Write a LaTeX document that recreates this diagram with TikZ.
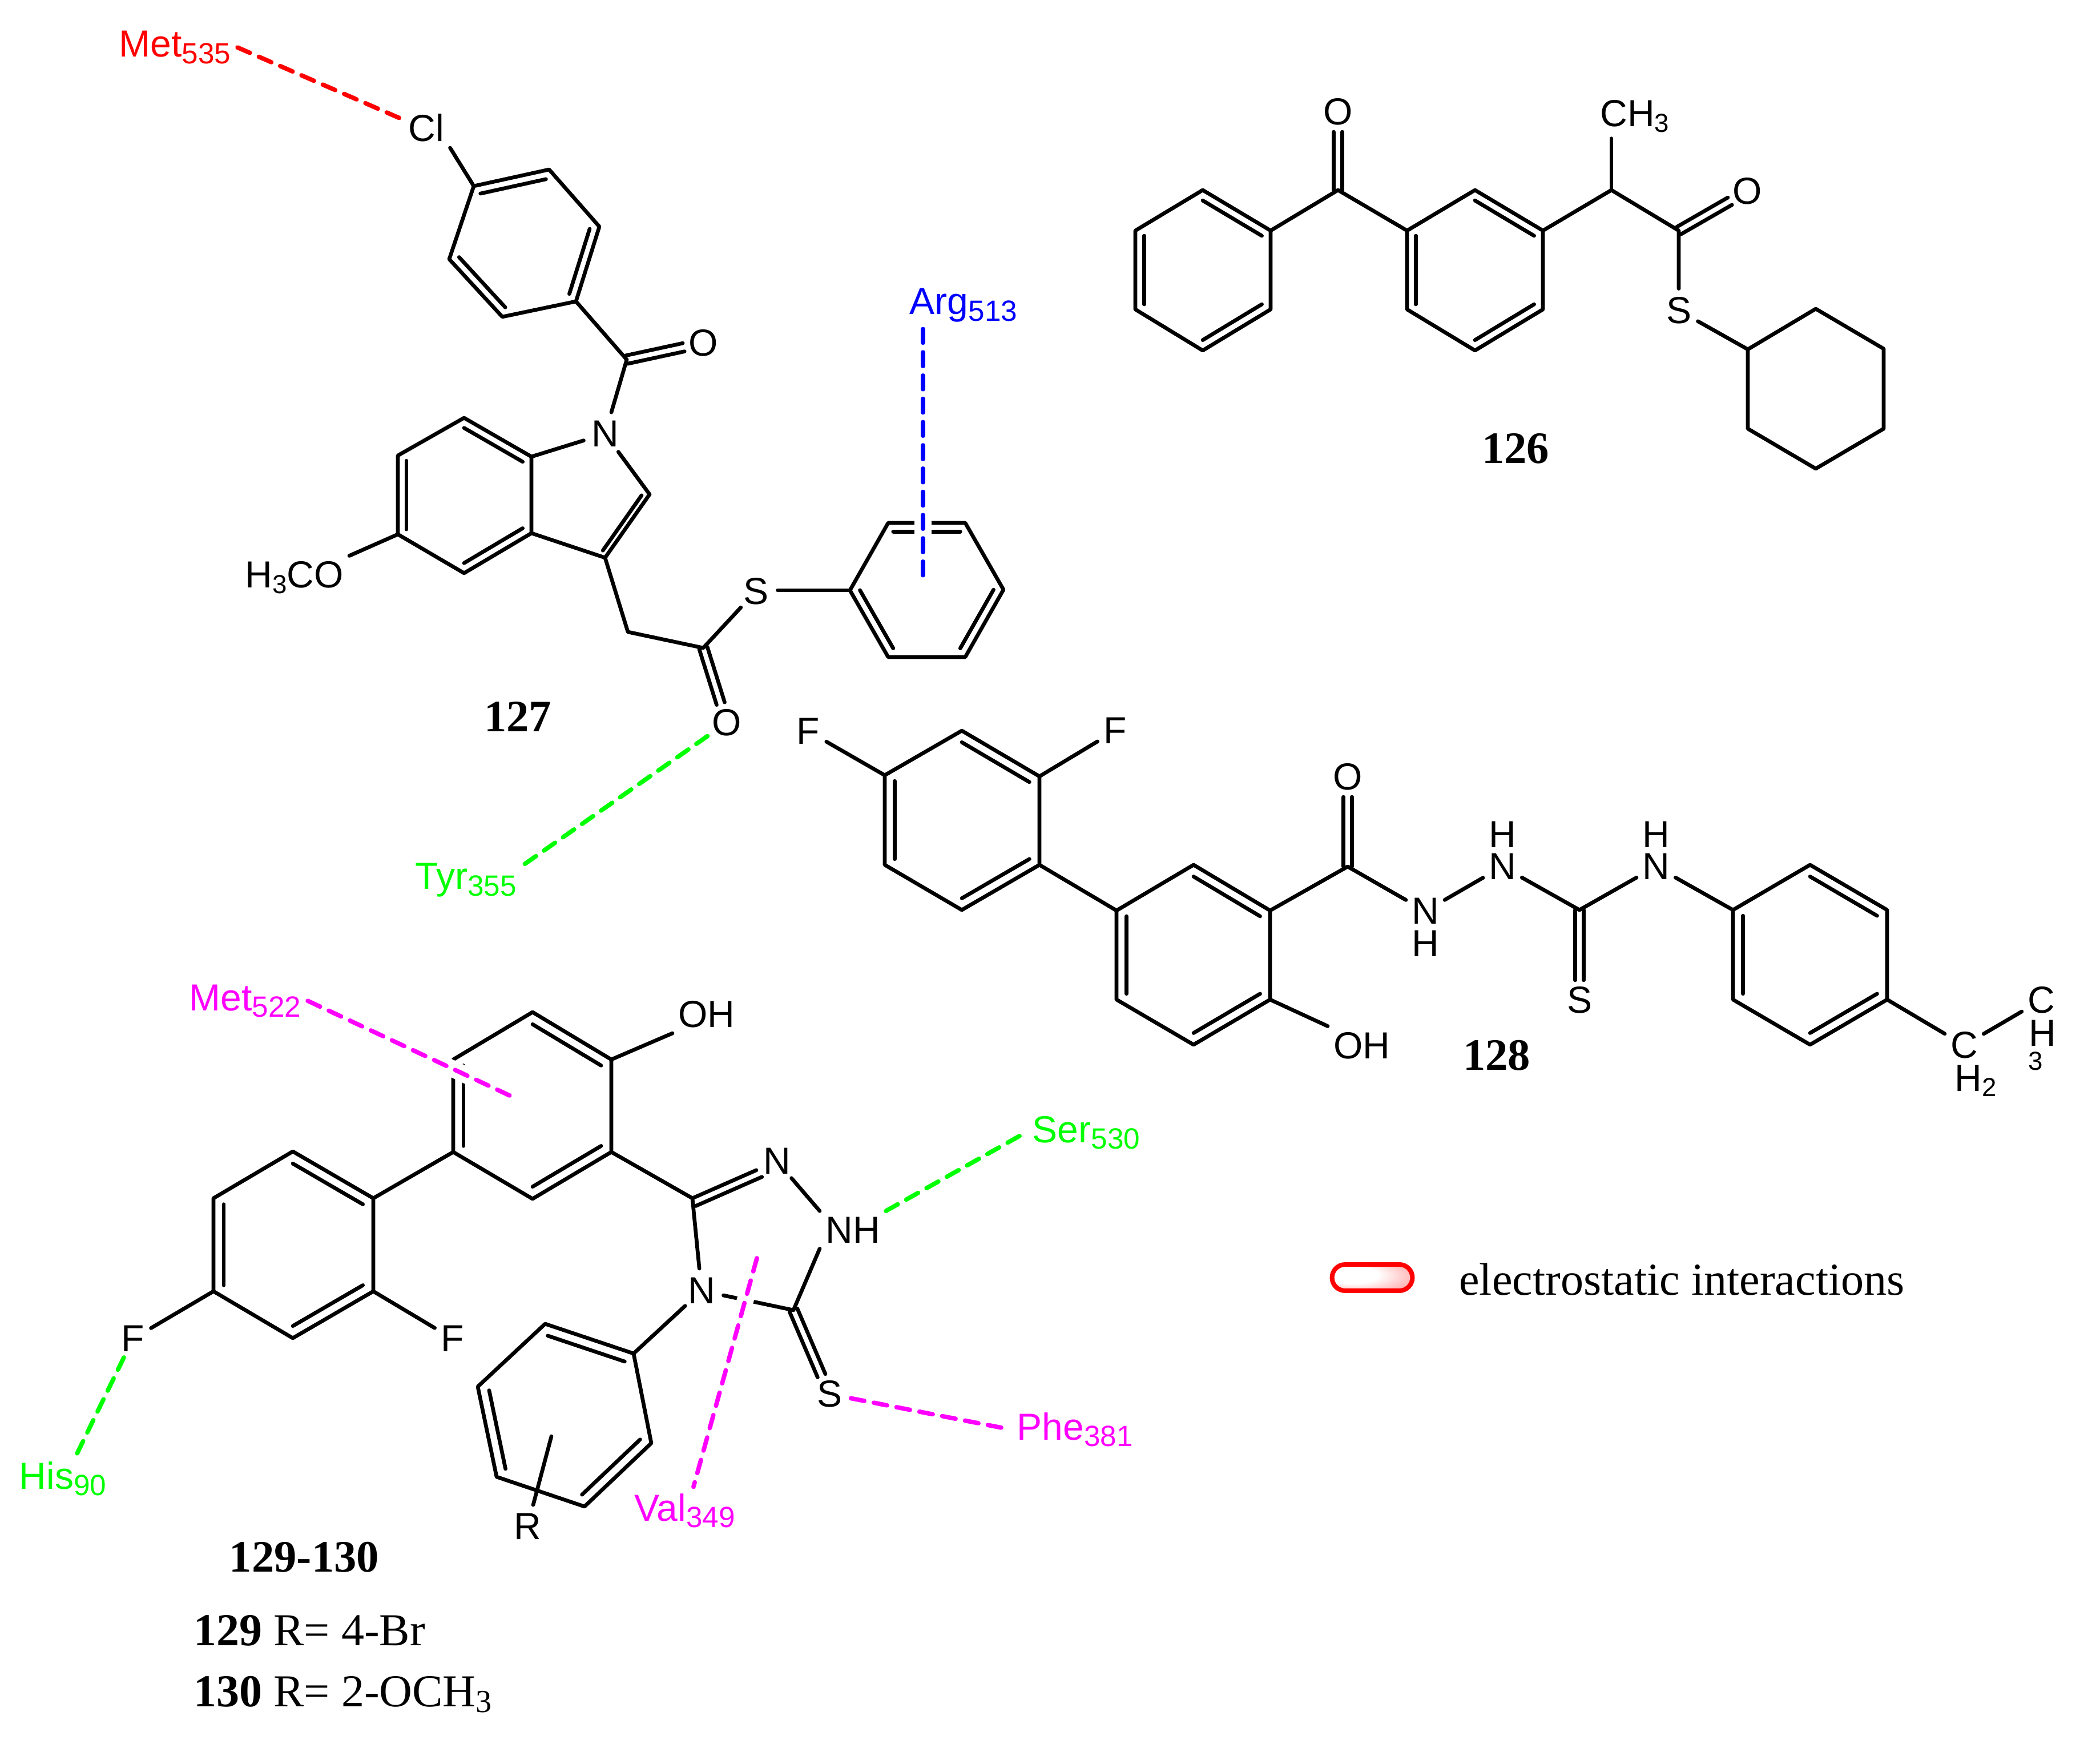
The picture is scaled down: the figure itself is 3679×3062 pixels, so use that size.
\documentclass[tikz,border=0pt]{standalone}
\usepackage{fontspec}
\setmainfont{Liberation Serif}
\setsansfont{Liberation Sans}
\usetikzlibrary{calc,shapes.misc}
\definecolor{rot}{RGB}{255,0,0}
\definecolor{blau}{RGB}{0,0,255}
\definecolor{gruen}{RGB}{0,255,0}
\definecolor{pink}{RGB}{255,0,255}
\def\abstand{1.05pt}
\def\tief#1{\raisebox{-1.4pt}{\fontsize{6.5}{8}\selectfont #1}}
\def\rest#1#2{#1\raisebox{-1.6pt}{\fontsize{7.3}{8}\selectfont #2}}
\def\sechseck#1#2#3#4#5#6#7{
	\coordinate (#11) at #2;
	\coordinate (#12) at #3;
	\coordinate (#13) at #4;
	\coordinate (#14) at #5;
	\coordinate (#15) at #6;
	\coordinate (#16) at #7;
	\coordinate (#1m) at ($(#11)!.5!(#14)$);
	\draw (#11) -- (#12) -- (#13) -- (#14) -- (#15) -- (#16) -- cycle;
}
\def\innen#1#2#3{
	\draw ($(#1#2)!.13!(#1m)$) -- ($(#1#3)!.13!(#1m)$);
}
\def\doppel#1#2{
	\draw[shorten >=5pt] ($(#1)!\abstand!90:(#2)$) -- ($(#2)!\abstand!-90:(#1)$);
	\draw[shorten >=5pt] ($(#1)!\abstand!-90:(#2)$) -- ($(#2)!\abstand!90:(#1)$);
}
\pgfdeclareradialshading{pillglow}{\pgfpoint{-18bp}{7bp}}{color(0bp)=(white);color(16bp)=(white);color(36bp)=(rot!35);color(50bp)=(rot!80)}
\tikzset{
	bond/.style={line width=.95pt,line cap=round,line join=round},
	atom/.style={circle,inner sep=.3pt,font=\sffamily\fontsize{9.4}{11}\selectfont},
	gruppe/.style={inner sep=1pt,font=\sffamily\fontsize{9.4}{11}\selectfont},
	klein/.style={inner sep=0pt,font=\sffamily\fontsize{6.5}{8}\selectfont},
	residue/.style={anchor=base west,inner sep=1.2pt,text=#1,font=\sffamily\fontsize{9.4}{11}\selectfont},
	kontakt/.style={draw=#1,line width=1.1pt,dash pattern=on 3.4pt off 2.4pt},
	halo/.style={preaction={draw=white,solid,line width=4.2pt}},
	nummer/.style={inner sep=0pt,font=\fontsize{11.2}{13}\selectfont\bfseries},
	zeile/.style={anchor=base west,inner sep=0pt,font=\fontsize{11.4}{13}\selectfont}
}
\begin{document}
\begin{tikzpicture}[x=.005cm,y=-.005cm,bond]
\useasboundingbox (0,0) rectangle (3679,3062);
% 127
\sechseck{a}{(830,326)}{(962,297)}{(1050,397)}{(1009,528)}{(880,555)}{(787,454)}
\innen{a}{1}{2}
\innen{a}{3}{4}
\innen{a}{5}{6}
\node[gruppe,anchor=base] (cl) at (747,248) {Cl};
\draw (cl.south east) -- (a1);
\coordinate (ca) at (1098,630);
\node[atom] (oa) at (1232,601) {O};
\draw (a4) -- (ca);
\doppel{ca}{oa}
\sechseck{i}{(813,732)}{(931,800)}{(931,934)}{(813,1004)}{(697,936)}{(697,798)}
\innen{i}{1}{2}
\innen{i}{3}{4}
\innen{i}{5}{6}
\node[atom] (na) at (1060,760) {N};
\coordinate (cb) at (1138,866);
\coordinate (cc) at (1060,977);
\coordinate (fm) at (1030,880);
\draw (ca) -- (na);
\draw (i2) -- (na);
\draw (na) -- (cb) -- (cc) -- (i3);
\draw ($(cb)!.13!(fm)$) -- ($(cc)!.13!(fm)$);
\node[gruppe,anchor=base east] (ome) at (612,1030) {H\tief{3}CO};
\draw (i5) -- (ome.north east);
\coordinate (ch) at (1100,1107);
\coordinate (cd) at (1232,1135);
\node[atom] (sa) at (1324,1036) {S};
\node[atom] (ob) at (1273,1266) {O};
\draw (cc) -- (ch) -- (cd) -- (sa);
\doppel{cd}{ob}
\sechseck{p}{(1489,1034)}{(1556,916)}{(1691,916)}{(1758,1033)}{(1691,1151)}{(1556,1151)}
\innen{p}{2}{3}
\innen{p}{4}{5}
\innen{p}{6}{1}
\draw (sa.east |- p1) -- (p1);
\node[nummer] (n127) at (907,1255) {127};
\node[residue=rot] (met535) at (197,100) {\rest{Met}{535}};
\draw[kontakt=rot] (met535.east) -- (cl.160);
\node[residue=blau] (arg) at (1582,551) {\rest{Arg}{513}};
\coordinate (argend) at (1617,1009);
\draw[kontakt=blau,halo] (arg.south -| argend) -- (argend);
\node[residue=gruen] (tyr) at (716,1558) {\rest{Tyr}{355}};
\draw[kontakt=gruen] (ob) -- (tyr.15);
% 126
\sechseck{e}{(2107,333)}{(2226,404)}{(2226,542)}{(2107,614)}{(1989,542)}{(1989,404)}
\innen{e}{1}{2}
\innen{e}{3}{4}
\innen{e}{5}{6}
\sechseck{f}{(2584,333)}{(2703,404)}{(2703,542)}{(2584,614)}{(2465,542)}{(2465,404)}
\innen{f}{1}{2}
\innen{f}{3}{4}
\innen{f}{5}{6}
\coordinate (ce) at (2344,333);
\node[atom] (oc) at (2344,196) {O};
\draw (e2) -- (ce) -- (f6);
\doppel{ce}{oc}
\coordinate (cf) at (2823,333);
\coordinate (cg) at (2941,404);
\node[gruppe,anchor=base west] (cha) at (2793,222) {CH\tief{3}};
\node[atom] (od) at (3061,335) {O};
\node[atom] (sb) at (2941,544) {S};
\draw (f2) -- (cf) -- (cg) -- (sb);
\draw (cf) -- (cf |- cha.south);
\doppel{cg}{od}
\sechseck{z}{(3062,612)}{(3181,541)}{(3300,611)}{(3300,751)}{(3181,821)}{(3062,751)}
\draw (sb) -- (z1);
\node[nummer] (n126) at (2655,786) {126};
% 128
\sechseck{b}{(1550,1358)}{(1685,1280)}{(1821,1360)}{(1821,1515)}{(1685,1594)}{(1550,1515)}
\innen{b}{2}{3}
\innen{b}{4}{5}
\innen{b}{6}{1}
\sechseck{c}{(2091,1515)}{(2225,1595)}{(2225,1751)}{(2091,1830)}{(1956,1751)}{(1956,1595)}
\innen{c}{1}{2}
\innen{c}{3}{4}
\innen{c}{5}{6}
\node[atom] (fa) at (1416,1281) {F};
\node[atom] (fb) at (1954,1280) {F};
\draw (b1) -- (fa);
\draw (b3) -- (fb);
\draw (b4) -- (c6);
\coordinate (ci) at (2361,1518);
\coordinate (cj) at (2767,1594);
\node[atom] (oe) at (2361,1361) {O};
\node[atom] (nb) at (2497,1596) {N};
\node[atom] (hb) at (2497,1653) {H};
\node[atom] (nc) at (2632,1518) {N};
\node[atom] (hc) at (2632,1462) {H};
\node[atom] (sc) at (2767,1752) {S};
\node[atom] (nd) at (2901,1518) {N};
\node[atom] (hd) at (2901,1462) {H};
\draw (c2) -- (ci) -- (nb);
\draw (nb) -- (nc);
\draw (nc) -- (cj) -- (nd);
\doppel{ci}{oe}
\doppel{cj}{sc}
\sechseck{d}{(3171,1515)}{(3306,1594)}{(3306,1751)}{(3171,1830)}{(3036,1751)}{(3036,1594)}
\innen{d}{1}{2}
\innen{d}{3}{4}
\innen{d}{5}{6}
\draw (nd) -- (d6);
\node[gruppe,anchor=base west] (ohb) at (2326,1854) {OH};
\draw (c3) -- (ohb.north west);
\node[atom] (ck) at (3441,1831) {C};
\node[gruppe,anchor=base west] (hzwei) at (3414,1911) {H\tief{2}};
\node[atom] (cl3) at (3576,1752) {C};
\node[atom] (hdrei) at (3578,1810) {H};
\node[klein] (drei) at (3566,1859) {3};
\draw (d3) -- (ck) -- (cl3);
\node[nummer] (n128) at (2622,1849) {128};
% 129-130
\sechseck{g}{(933,1773)}{(1071,1856)}{(1071,2018)}{(933,2100)}{(794,2018)}{(794,1856)}
\innen{g}{1}{2}
\innen{g}{3}{4}
\innen{g}{5}{6}
\sechseck{h}{(513,2017)}{(654,2099)}{(654,2262)}{(513,2344)}{(374,2262)}{(374,2099)}
\innen{h}{1}{2}
\innen{h}{3}{4}
\innen{h}{5}{6}
\draw (h2) -- (g5);
\node[gruppe,anchor=base west] (oha) at (1178,1799) {OH};
\draw (g2) -- (oha.south west);
\node[atom] (fc) at (793,2345) {F};
\node[atom] (fd) at (233,2345) {F};
\draw (h3) -- (fc);
\draw (h5) -- (fd);
\coordinate (cm) at (1213,2099);
\coordinate (cn) at (1390,2295);
\node[atom] (ne) at (1361,2034) {N};
\node[gruppe,anchor=base west] (nh) at (1436,2177) {NH};
\node[atom] (nf) at (1229,2261) {N};
\node[atom] (sd) at (1453,2442) {S};
\draw (g3) -- (cm) -- (ne);
\draw[shorten >=5pt] ($(cm)!2.1pt!-90:(ne)$) -- ($(ne)!2.1pt!90:(cm)$);
\draw (ne) -- (nh.north west);
\draw (nh.south west) -- (cn) -- (nf) -- (cm);
\doppel{cn}{sd}
\sechseck{j}{(1110,2371)}{(955,2319)}{(837,2429)}{(870,2587)}{(1024,2639)}{(1141,2528)}
\innen{j}{1}{2}
\innen{j}{3}{4}
\innen{j}{5}{6}
\draw (nf) -- (j1);
\coordinate (rend) at (966,2516);
\node[atom] (ra) at (924,2674) {R};
\draw (rend) -- (ra);
\node[residue=pink] (met522) at (320,1770) {\rest{Met}{522}};
\coordinate (metend) at (897,1921);
\draw[kontakt=pink,halo] (met522.east) -- (metend);
\node[residue=gruen] (ser) at (1797,2001) {\rest{Ser}{530}};
\draw[kontakt=gruen] (nh.north east) -- (ser.west);
\node[residue=gruen] (his) at (22,2608) {\rest{His}{90}};
\draw[kontakt=gruen] (fd) -- (his.60);
\node[residue=pink] (val) at (1100,2664) {\rest{Val}{349}};
\coordinate (valend) at (1326,2204);
\draw[kontakt=pink,halo] (valend) -- (val.70);
\node[residue=pink] (phe) at (1770,2522) {\rest{Phe}{381}};
\draw[kontakt=pink] (sd) -- (phe.west);
\node[nummer] (n129) at (533,2728) {129-130};
\node[zeile] (zeilea) at (336,2882) {\textbf{129} R= 4-Br};
\node[zeile] (zeileb) at (336,2989) {\textbf{130} R= 2-OCH\raisebox{-1.5pt}{\fontsize{8}{9}\selectfont 3}};
% legend
\node[rounded rectangle,draw=rot,line width=1.14pt,shading=pillglow,minimum width=.705cm,minimum height=.23cm,inner sep=0pt] (pill) at (2404,2238) {};
\node[anchor=west,inner sep=0pt,font=\fontsize{11.4}{13}\selectfont] (legende) at (2553,2241) {electrostatic interactions};
\end{tikzpicture}
\end{document}
